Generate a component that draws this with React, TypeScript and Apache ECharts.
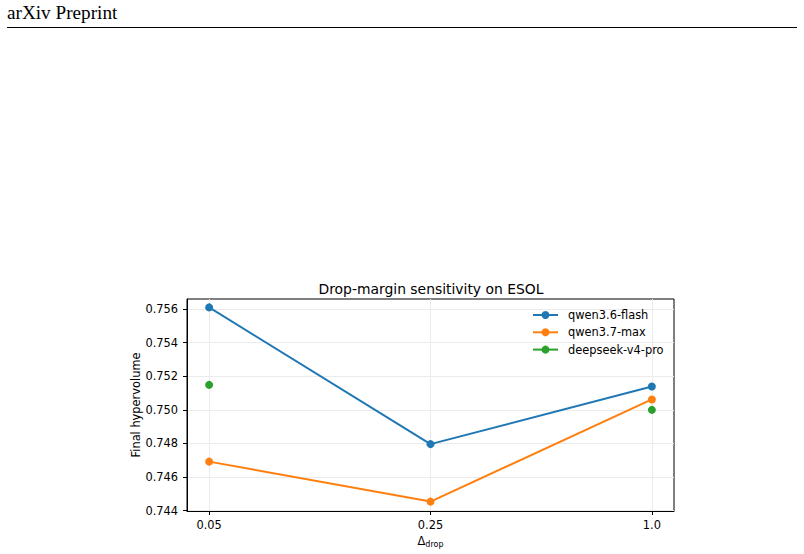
import React, { useEffect, useRef } from "react";
import * as echarts from "echarts";

const xLabels = ["0.05", "0.25", "1.0"];
const seriesNames = ["qwen3.6-flash", "qwen3.7-max", "deepseek-v4-pro"];
const qwenFlash = [0.7561, 0.74796, 0.75139];
const qwenMax = [0.74692, 0.74454, 0.75062];
const deepseek: (number | null)[] = [0.75149, null, 0.75];
const yTicks = [0.744, 0.746, 0.748, 0.75, 0.752, 0.754, 0.756];
const colors = ["#1f77b4", "#ff7f0e", "#2ca02c"];

const FONT = "DejaVu Sans";
const FS = 11.4;

export default function App() {
  const ref = useRef<HTMLDivElement>(null);
  useEffect(() => {
    if (!ref.current) return;
    const chart = echarts.init(ref.current, null, { renderer: "svg" });
    const xIdx = xLabels.map((_, i) => i);
    const toPts = (arr: (number | null)[]) => arr.map((v, i) => [i, v]);
    const allSeries = [qwenFlash, qwenMax, deepseek];
    chart.setOption({
      animation: false,
      backgroundColor: "#ffffff",
      title: {
        text: "Drop-margin sensitivity on ESOL",
        left: 431,
        top: 282,
        padding: 0,
        textAlign: "center",
        textStyle: { fontFamily: FONT, fontSize: 13.9, fontWeight: "normal", color: "#000" },
      },
      graphic: [
        {
          type: "text",
          left: 7,
          top: 3,
          style: { text: "arXiv Preprint", fontFamily: "Liberation Serif", fontSize: 19.2, fill: "#000" },
        },
        {
          type: "line",
          shape: { x1: 7, y1: 27.5, x2: 797, y2: 27.5 },
          style: { stroke: "#000", lineWidth: 1 },
        },
      ],
      legend: {
        orient: "vertical",
        left: 532,
        top: 308,
        padding: 0,
        itemWidth: 25,
        itemHeight: 10,
        itemGap: 3.3,
        data: seriesNames,
        textStyle: { fontFamily: FONT, fontSize: FS, color: "#000", lineHeight: 14, padding: [0, 0, 0, 5] },
      },
      grid: {
        left: 187,
        right: 130,
        top: 299,
        bottom: 43,
        show: true,
        borderColor: "#000",
        borderWidth: 1,
      },
      xAxis: {
        type: "value",
        min: -0.1,
        max: 2.1,
        name: "Δ{sub|drop}",
        nameLocation: "middle",
        nameGap: 23,
        nameMoveOverlap: false,
        nameTextStyle: {
          fontFamily: FONT,
          fontSize: FS,
          color: "#000",
          rich: { sub: { fontFamily: FONT, fontSize: 8, color: "#000", padding: [6, 0, 0, 0] } },
        },
        axisLine: { show: true, onZero: false, lineStyle: { color: "#000", width: 1 } },
        axisTick: { show: true, length: 4, lineStyle: { color: "#000" }, customValues: xIdx },
        axisLabel: {
          customValues: xIdx,
          formatter: (v: number) => xLabels[Math.round(v)] ?? "",
          fontFamily: FONT,
          fontSize: FS,
          color: "#000",
          margin: 8,
        },
        splitLine: { show: true, lineStyle: { color: "#ebebeb", width: 1 } },
      },
      yAxis: {
        type: "value",
        min: 0.74398,
        max: 0.7566,
        name: "Final hypervolume",
        nameLocation: "middle",
        nameGap: 46,
        nameMoveOverlap: false,
        nameTextStyle: { fontFamily: FONT, fontSize: FS, color: "#000" },
        axisLine: { show: true, onZero: false, lineStyle: { color: "#000", width: 1 } },
        axisTick: { show: true, length: 4, lineStyle: { color: "#000" }, customValues: yTicks },
        axisLabel: {
          customValues: yTicks,
          formatter: (v: number) => v.toFixed(3),
          fontFamily: FONT,
          fontSize: FS,
          color: "#000",
          margin: 9,
        },
        splitLine: { show: true, lineStyle: { color: "#ebebeb", width: 1 } },
      },
      series: allSeries.map((arr, k) => ({
        name: seriesNames[k],
        type: "line",
        data: toPts(arr),
        connectNulls: false,
        symbol: "circle",
        symbolSize: 8,
        color: colors[k],
        lineStyle: { width: 2, color: colors[k] },
        itemStyle: { color: colors[k] },
      })),
    });
    return () => chart.dispose();
  }, []);
  return (
    <div
      ref={ref}
      style={{ position: "fixed", left: 0, top: 0, width: 804, height: 554 }}
    />
  );
}
